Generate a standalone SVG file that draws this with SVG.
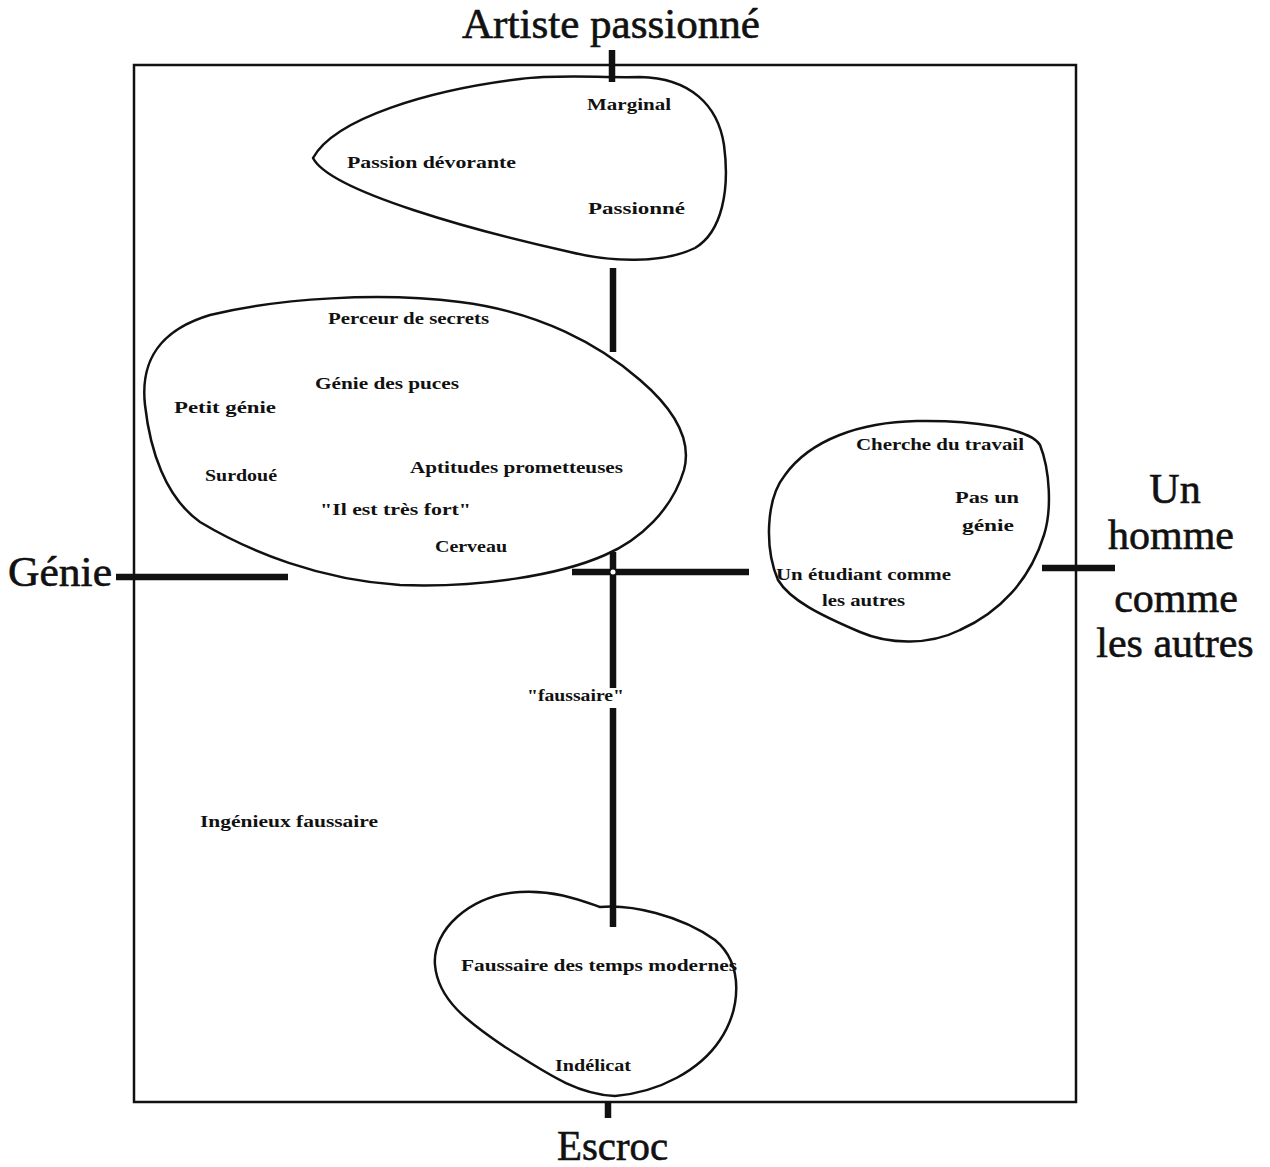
<svg xmlns="http://www.w3.org/2000/svg" width="1270" height="1167" viewBox="0 0 1270 1167">
<style>
.big{font-family:"Liberation Serif","Times New Roman",serif;font-size:42px;fill:#111;stroke:#111;stroke-width:0.6}
.lbl{font-family:"Liberation Serif","Times New Roman",serif;font-size:16px;font-weight:bold;fill:#111}
.blob{fill:none;stroke:#111;stroke-width:2.5;stroke-linejoin:round}
.axis{stroke:#111;stroke-width:6.5;fill:none}
.frame{fill:none;stroke:#111;stroke-width:2.5}
</style>
<rect width="1270" height="1167" fill="#fff"/>
<g id="frame"><rect class="frame" x="134" y="65" width="942" height="1037"/></g>
<g id="connectors">
<line class="axis" x1="612" y1="50" x2="612" y2="82"/>
<line class="axis" x1="613" y1="268" x2="613" y2="352"/>
<line class="axis" x1="613" y1="552" x2="613" y2="688"/>
<line class="axis" x1="613" y1="708" x2="613" y2="927"/>
<line class="axis" x1="608" y1="1102" x2="608" y2="1118"/>
<line class="axis" x1="572" y1="572" x2="749" y2="572"/>
<circle cx="613" cy="572" r="2.5" fill="#fff"/>
<line class="axis" x1="116" y1="577" x2="288" y2="577"/>
<line class="axis" x1="1042" y1="568" x2="1115" y2="568"/>
</g>
<g id="axis-labels">
<text class="big" x="462" y="38" textLength="298" lengthAdjust="spacingAndGlyphs">Artiste passionné</text>
<text class="big" x="557" y="1160" textLength="111" lengthAdjust="spacingAndGlyphs">Escroc</text>
<text class="big" x="8" y="586" textLength="104" lengthAdjust="spacingAndGlyphs">Génie</text>
<text class="big" x="1175" y="503" text-anchor="middle">Un</text>
<text class="big" x="1171" y="549" text-anchor="middle">homme</text>
<text class="big" x="1176" y="612" text-anchor="middle">comme</text>
<text class="big" x="1175" y="657" text-anchor="middle">les autres</text>
</g>
<g id="node-artiste">
<path class="blob" d="M313,158 C335,118 430,90 520,79 C560,74 600,78 640,77 C690,78 718,105 724,145 C730,190 722,232 695,248 C662,264 610,262 570,252 C480,232 330,192 313,158 Z"/>
<text class="lbl" x="587" y="110" textLength="84" lengthAdjust="spacingAndGlyphs">Marginal</text>
<text class="lbl" x="347" y="168" textLength="169" lengthAdjust="spacingAndGlyphs">Passion dévorante</text>
<text class="lbl" x="588" y="214" textLength="97" lengthAdjust="spacingAndGlyphs">Passionné</text>
</g>
<g id="node-genie">
<path class="blob" d="M145,405 C140,360 160,330 210,315 C280,298 380,292 460,302 C540,312 600,345 640,380 C675,410 692,440 684,470 C672,510 640,540 605,555 C560,575 480,588 400,585 C320,580 250,552 200,522 C165,497 150,450 145,405 Z"/>
<text class="lbl" x="328" y="324" textLength="161" lengthAdjust="spacingAndGlyphs">Perceur de secrets</text>
<text class="lbl" x="315" y="389" textLength="144" lengthAdjust="spacingAndGlyphs">Génie des puces</text>
<text class="lbl" x="174" y="413" textLength="102" lengthAdjust="spacingAndGlyphs">Petit génie</text>
<text class="lbl" x="205" y="481" textLength="72" lengthAdjust="spacingAndGlyphs">Surdoué</text>
<text class="lbl" x="410" y="473" textLength="213" lengthAdjust="spacingAndGlyphs">Aptitudes prometteuses</text>
<text class="lbl" x="320" y="515" textLength="151" lengthAdjust="spacingAndGlyphs">"Il est très fort"</text>
<text class="lbl" x="435" y="552" textLength="72" lengthAdjust="spacingAndGlyphs">Cerveau</text>
</g>
<g id="node-homme">
<path class="blob" d="M917,421 C970,420 1030,428 1040,445 C1050,470 1052,510 1044,535 C1030,580 1000,612 960,630 C930,645 890,645 860,632 C820,615 790,600 778,580 C765,550 765,500 785,475 C810,440 860,422 917,421 Z"/>
<text class="lbl" x="856" y="450" textLength="168" lengthAdjust="spacingAndGlyphs">Cherche du travail</text>
<text class="lbl" x="955" y="503" textLength="64" lengthAdjust="spacingAndGlyphs">Pas un</text>
<text class="lbl" x="962" y="531" textLength="52" lengthAdjust="spacingAndGlyphs">génie</text>
<text class="lbl" x="776" y="580" textLength="175" lengthAdjust="spacingAndGlyphs">Un étudiant comme</text>
<text class="lbl" x="822" y="606" textLength="83" lengthAdjust="spacingAndGlyphs">les autres</text>
</g>
<g id="node-faussaire">
<text class="lbl" x="527" y="701" textLength="97" lengthAdjust="spacingAndGlyphs">"faussaire"</text>
</g>
<g id="node-ingenieux">
<text class="lbl" x="200" y="827" textLength="178" lengthAdjust="spacingAndGlyphs">Ingénieux faussaire</text>
</g>
<g id="node-escroc">
<path class="blob" d="M435,965 C432,930 470,895 520,892 C555,890 580,900 600,907 C630,904 680,915 715,940 C745,965 740,1010 720,1040 C700,1070 660,1092 615,1096 C575,1094 545,1072 505,1047 C468,1022 438,1000 435,965 Z"/>
<text class="lbl" x="461" y="971" textLength="276" lengthAdjust="spacingAndGlyphs">Faussaire des temps modernes</text>
<text class="lbl" x="555" y="1071" textLength="76" lengthAdjust="spacingAndGlyphs">Indélicat</text>
</g>
</svg>
